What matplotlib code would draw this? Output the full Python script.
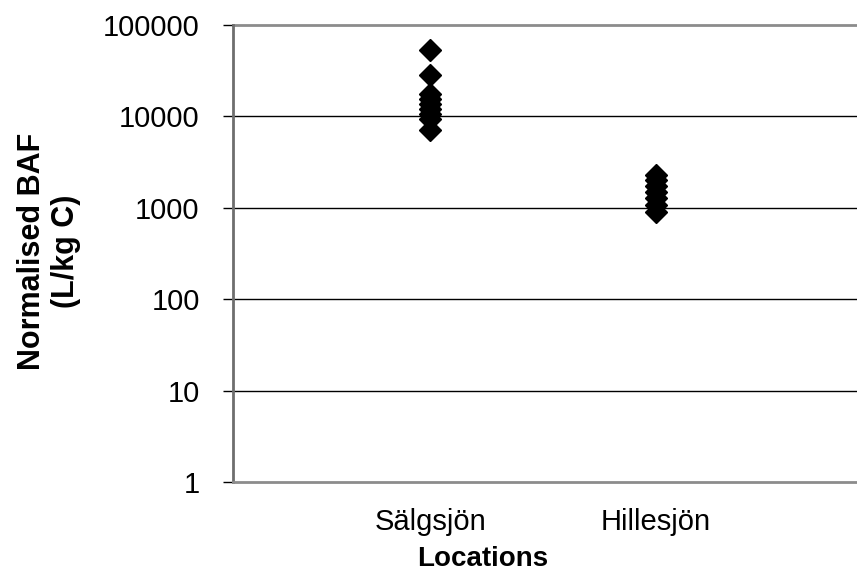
import matplotlib
matplotlib.use("Agg")
import matplotlib.pyplot as plt

plt.rcParams['font.family'] = ['Liberation Sans', 'DejaVu Sans']

# Normalised BAF per sample (L/kg C)
locations = ["Sälgsjön", "Hillesjön"]
salgsjon_baf = [53000, 28400, 17600, 15500, 13700, 12100, 10600, 9400, 7100]
hillesjon_baf = [2290, 2010, 1730, 1490, 1280, 1070, 900]
y_ticks = [1, 10, 100, 1000, 10000, 100000]

fig = plt.figure(figsize=(8.57, 5.74), dpi=100)
ax = fig.add_axes([0.2719, 0.1603, 0.7281 + 0.001, 0.7961])

for i, vals in enumerate([salgsjon_baf, hillesjon_baf]):
    ax.plot([i + 1] * len(vals), vals, linestyle="none", marker="D",
            markersize=11.5, color="black", clip_on=False, zorder=3)

ax.set_yscale("log")
ax.set_ylim(1, 100000)
ax.set_xlim(0.1244, 2.898)
ax.set_yticks(y_ticks)
ax.set_yticklabels([str(t) for t in y_ticks])
ax.minorticks_off()
ax.set_xticks([1, 2])
ax.set_xticklabels(locations)

# horizontal gridlines, the top one in grey like the frame
for t in y_ticks[1:-1]:
    ax.axhline(t, color="black", linewidth=1.0, zorder=1)
ax.axhline(100000, color="#8c8c8c", linewidth=2.0, zorder=1, clip_on=False)

for side in ["top", "right"]:
    ax.spines[side].set_visible(False)
ax.spines["left"].set_color("#6e6e6e")
ax.spines["left"].set_linewidth(2.0)
ax.spines["bottom"].set_color("#8c8c8c")
ax.spines["bottom"].set_linewidth(2.0)

ax.tick_params(axis="y", direction="out", length=7, width=1.0, color="black",
               labelsize=21, pad=17)
ax.tick_params(axis="x", length=0, labelsize=21, pad=19)

ax.set_xlabel("Locations", fontsize=20, fontweight="bold")
ax.xaxis.set_label_coords(0.40, -0.139)
ax.set_ylabel("Normalised BAF\n(L/kg C)", fontsize=22, fontweight="bold",
              linespacing=1.2)
ax.yaxis.set_label_coords(-0.243, 0.505)

fig.savefig("out.png", dpi=100)
